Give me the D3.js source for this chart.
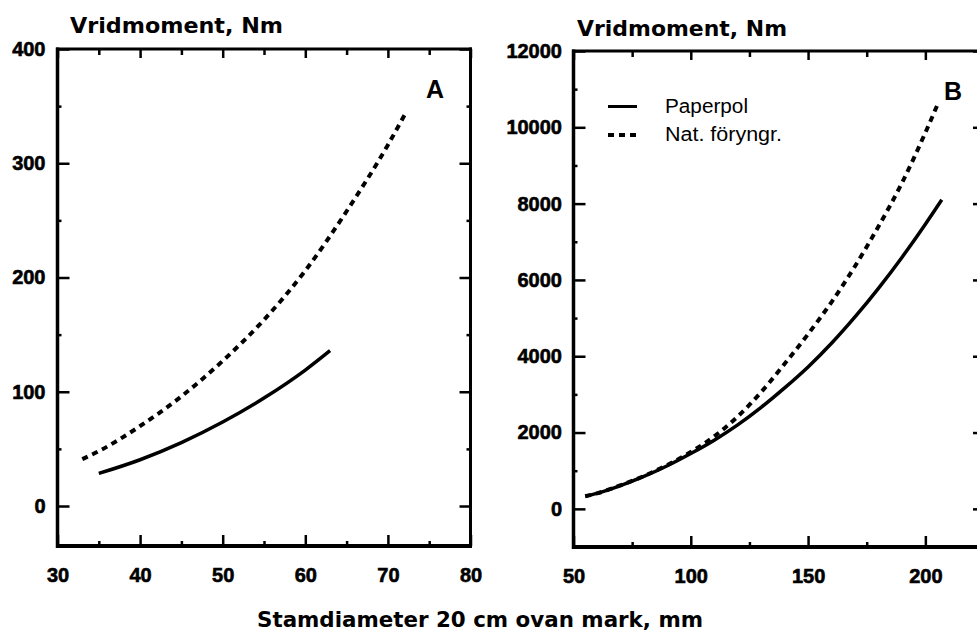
<!DOCTYPE html>
<html><head><meta charset="utf-8">
<script src="https://cdn.jsdelivr.net/npm/d3@7"></script>
<style>body{margin:0;background:#fff}svg{display:block;background:#fff}</style>
</head><body><svg id="c" width="977" height="632"></svg>
<script>
// ---- data ----
const seriesNames = ["Paperpol", "Nat. föryngr."];
const diamA_paperpot   = [35, 40, 45, 50, 55, 60, 63];
const torqueA_paperpot = [28.5, 40.5, 55.5, 73.5, 94.5, 119, 136];
const diamA_nat        = [33, 35, 40, 45, 50, 55, 60, 65, 70, 72];
const torqueA_nat      = [41, 48, 70, 96, 127, 163, 206, 258, 316, 342];
const diamB_paperpot   = [55, 60, 70, 80, 90, 100, 110, 120, 130, 140, 150, 160, 170, 180, 190, 200, 207];
const torqueB_paperpot = [330, 405, 610, 850, 1130, 1450, 1800, 2200, 2660, 3170, 3720, 4340, 5030, 5780, 6590, 7460, 8100];
const diamB_nat        = [55, 60, 70, 80, 90, 100, 110, 120, 130, 140, 150, 160, 170, 180, 190, 200, 205.5];
const torqueB_nat      = [330, 405, 615, 860, 1150, 1490, 1900, 2420, 3060, 3800, 4580, 5420, 6360, 7400, 8540, 9860, 10640];
const xTicksA = [30, 40, 50, 60, 70, 80];
const yTicksA = [0, 100, 200, 300, 400];
const xTicksB = [50, 100, 150, 200];
const yTicksB = [0, 2000, 4000, 6000, 8000, 10000, 12000];
const yTitle = "Vridmoment, Nm";
const xTitle = "Stamdiameter 20 cm ovan mark, mm";
const panelLabels = ["A", "B"];

const FONT = "'Liberation Sans', Arial, Helvetica, sans-serif";
const TFONT = "'DejaVu Sans', Verdana, sans-serif";
const svg = d3.select("#c");

function zip(a, b) { return a.map((v, i) => [v, b[i]]); }

function drawPanel(p) {
  const x = d3.scaleLinear().domain(p.xDomain).range(p.xRange);
  const y = d3.scaleLinear().domain(p.yDomain).range(p.yRange);
  const [x0, x1] = p.xRange;
  const [yb, yt] = p.yRange;
  const g = svg.append("g");

  const tickAxis = (axis, tx, ty, vals, size) => {
    const a = g.append("g").attr("transform", `translate(${tx},${ty})`)
      .call(axis.tickValues(vals).tickSize(size).tickFormat(""));
    a.select(".domain").remove();
    a.selectAll(".tick line").attr("stroke", "#000").attr("stroke-width", 2.5);
  };
  // major / minor inward ticks
  tickAxis(d3.axisLeft(y), x0, 0, p.yTicks, -12);
  tickAxis(d3.axisLeft(y), x0, 0, p.yMinor, -4);
  tickAxis(d3.axisRight(y), x1, 0, p.yTicks, -11);
  tickAxis(d3.axisRight(y), x1, 0, p.yMinor, -4);
  tickAxis(d3.axisBottom(x), 0, yb, p.xTicks, -11);
  tickAxis(d3.axisBottom(x), 0, yb, p.xMinor, -5);
  tickAxis(d3.axisTop(x), 0, yt, p.xTicks, -9);
  tickAxis(d3.axisTop(x), 0, yt, p.xMinor, -6);

  // frame
  const frame = [
    [x0, yt - 1.5, x0, yb + 2, 3.5],
    [x1, yt - 1.5, x1, yb + 2, 3],
    [x0 - 1.5, yb, x1 + 1.5, yb, 4],
    [x0 - 1.5, yt, x1 + 1.5, yt, 3]
  ];
  frame.forEach(f => g.append("line").attr("x1", f[0]).attr("y1", f[1]).attr("x2", f[2]).attr("y2", f[3])
    .attr("stroke", "#000").attr("stroke-width", f[4]));

  // tick labels
  const lab = (axis, tx, ty, vals, pad) => {
    const a = g.append("g").attr("transform", `translate(${tx},${ty})`)
      .call(axis.tickValues(vals).tickSize(0).tickPadding(pad).tickFormat(d3.format("d")));
    a.select(".domain").remove();
    a.attr("font-family", FONT).attr("font-size", 20).attr("font-weight", "bold");
    a.selectAll("text").attr("fill", "#000").attr("stroke", "#000").attr("stroke-width", 0.6);
  };
  lab(d3.axisLeft(y), x0, 0, p.yTicks, p.yPad);
  lab(d3.axisBottom(x), 0, yb, p.xTicks, 22);

  // curves
  const line = d3.line().x(d => x(d[0])).y(d => y(d[1])).curve(d3.curveMonotoneX);
  g.append("path").datum(zip(p.solidX, p.solidY)).attr("d", line)
    .attr("fill", "none").attr("stroke", "#000").attr("stroke-width", 3.5);
  g.append("path").datum(zip(p.dotX, p.dotY)).attr("d", line)
    .attr("fill", "none").attr("stroke", "#000").attr("stroke-width", 4)
    .attr("stroke-dasharray", "6,5");

  // y title
  g.append("text").attr("x", p.titleX).attr("y", p.titleY)
    .attr("font-family", TFONT).attr("font-size", 22).attr("font-weight", "bold")
    .attr("textLength", p.titleLen).attr("lengthAdjust", "spacingAndGlyphs").text(yTitle);
  // panel label
  g.append("text").attr("x", p.labX).attr("y", p.labY).attr("text-anchor", "middle")
    .attr("font-family", FONT).attr("font-size", 25).attr("font-weight", "bold").text(p.label);
  return { x, y };
}

drawPanel({
  xDomain: [30, 80], xRange: [57.5, 470.5],
  yDomain: [-35, 400], yRange: [546, 49],
  xTicks: xTicksA, xMinor: d3.range(35, 80, 10),
  yTicks: yTicksA, yMinor: d3.range(50, 400, 100),
  yPad: 12,
  solidX: diamA_paperpot, solidY: torqueA_paperpot,
  dotX: diamA_nat, dotY: torqueA_nat,
  titleX: 70, titleY: 33, titleLen: 213,
  label: panelLabels[0], labX: 435, labY: 98
});

drawPanel({
  xDomain: [50, 225], xRange: [573.5, 984],
  yDomain: [-1000, 12000], yRange: [547, 51],
  xTicks: xTicksB, xMinor: [75, 125, 175],
  yTicks: yTicksB, yMinor: d3.range(1000, 12000, 2000),
  yPad: 11.5,
  solidX: diamB_paperpot, solidY: torqueB_paperpot,
  dotX: diamB_nat, dotY: torqueB_nat,
  titleX: 577, titleY: 36, titleLen: 210,
  label: panelLabels[1], labX: 953, labY: 100
});

// legend (panel B)
const leg = svg.append("g");
leg.append("line").attr("x1", 608).attr("x2", 637).attr("y1", 106.5).attr("y2", 106.5)
  .attr("stroke", "#000").attr("stroke-width", 3);
leg.append("line").attr("x1", 608).attr("x2", 638).attr("y1", 135).attr("y2", 135)
  .attr("stroke", "#000").attr("stroke-width", 4).attr("stroke-dasharray", "6,5");
leg.append("text").attr("x", 665).attr("y", 113).attr("font-family", FONT).attr("font-size", 20)
  .attr("textLength", 83).attr("lengthAdjust", "spacingAndGlyphs").text(seriesNames[0]);
leg.append("text").attr("x", 665).attr("y", 141).attr("font-family", FONT).attr("font-size", 20)
  .attr("textLength", 117).attr("lengthAdjust", "spacingAndGlyphs").text(seriesNames[1]);

// x title
svg.append("text").attr("x", 257).attr("y", 627).attr("font-family", TFONT).attr("font-size", 21.5)
  .attr("font-weight", "bold").attr("textLength", 446).attr("lengthAdjust", "spacingAndGlyphs").text(xTitle);
</script>
</body></html>
